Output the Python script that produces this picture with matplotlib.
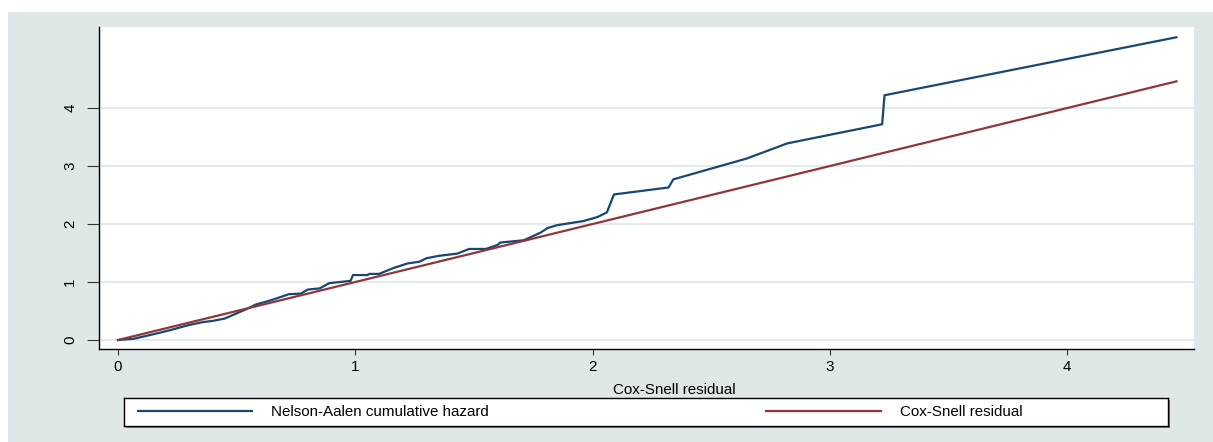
import matplotlib
matplotlib.use("Agg")
import matplotlib.pyplot as plt
from matplotlib.patches import Rectangle

plt.rcParams['font.family'] = ['Liberation Sans', 'DejaVu Sans']

# Nelson-Aalen cumulative hazard vs Cox-Snell residual
na_x = [0, 0.065, 0.16, 0.22, 0.30, 0.36, 0.40, 0.45, 0.50, 0.54, 0.58, 0.64,
        0.67, 0.72, 0.77, 0.80, 0.85, 0.89, 0.98, 0.99, 1.05, 1.06, 1.10, 1.16,
        1.22, 1.27, 1.30, 1.35, 1.43, 1.48, 1.55, 1.60, 1.61, 1.71, 1.78, 1.81,
        1.85, 1.96, 2.02, 2.06, 2.09, 2.32, 2.34, 2.65, 2.82, 3.22, 3.23, 4.46]
na_y = [0, 0.02, 0.11, 0.17, 0.26, 0.31, 0.33, 0.37, 0.46, 0.53, 0.61, 0.68,
        0.72, 0.79, 0.80, 0.87, 0.89, 0.98, 1.02, 1.12, 1.12, 1.14, 1.14, 1.24,
        1.32, 1.35, 1.41, 1.45, 1.49, 1.57, 1.57, 1.64, 1.68, 1.72, 1.85, 1.93,
        1.98, 2.05, 2.12, 2.20, 2.51, 2.63, 2.77, 3.13, 3.39, 3.72, 4.22, 5.22]

cs_x = [0, 4.46]
cs_y = [0, 4.46]

xticks = [0, 1, 2, 3, 4]
yticks = [0, 1, 2, 3, 4]
labels = ['Nelson-Aalen cumulative hazard', 'Cox-Snell residual']

NAVY = '#1a476f'
MAROON = '#90353b'
BG = '#dfe7e8'
GRID = '#e3ebec'
FS = 10.9

W, H = 1213, 442
fig = plt.figure(figsize=(W / 100, H / 100), dpi=100, facecolor='white')

# graph region background
fig.patches.append(Rectangle((8 / W, 0), 1, (H - 12) / H, transform=fig.transFigure,
                             facecolor=BG, edgecolor='none', zorder=-10))

ax = fig.add_axes([99 / W, (H - 349) / H, 1095 / W, 322 / H])
ax.set_facecolor('white')
ax.plot(na_x, na_y, color=NAVY, lw=1.6, label=labels[0], zorder=3)
ax.plot(cs_x, cs_y, color=MAROON, lw=1.6, label=labels[1], zorder=3)

ax.set_xlim(-0.08, 4.534)
ax.set_ylim(-0.155, 5.397)
ax.set_xticks(xticks)
ax.set_yticks(yticks)
ax.set_xticklabels([str(t) for t in xticks], fontsize=FS)
ax.set_yticklabels([str(t) for t in yticks], fontsize=FS, rotation=90, va='center')
ax.tick_params(axis='x', length=4.3, width=0.8, pad=3.5, colors='#333333', labelcolor='black')
ax.tick_params(axis='y', length=8.6, width=0.8, pad=7, colors='#333333', labelcolor='black')
ax.grid(axis='y', color=GRID, lw=1.5, zorder=0)
ax.set_axisbelow(True)
for s in ['top', 'right']:
    ax.spines[s].set_visible(False)
for s in ['left', 'bottom']:
    ax.spines[s].set_linewidth(1.0)
    ax.spines[s].set_color('black')
ax.set_xlabel('Cox-Snell residual', fontsize=FS)
ax.xaxis.set_label_coords(0.525, -0.105)

# legend box with shadow
lx, ly, lw_, lh = 124 / W, (H - 426) / H, 1044 / W, 28 / H
fig.patches.append(Rectangle((lx + 2 / W, ly - 2 / H), lw_, lh, transform=fig.transFigure,
                             facecolor='#7a7a7a', edgecolor='none', zorder=-5))
lax = fig.add_axes([lx, ly, lw_, lh])
lax.set_facecolor('white')
lax.set_xticks([])
lax.set_yticks([])
for s in lax.spines.values():
    s.set_linewidth(1.0)
    s.set_color('black')
handles, labs = ax.get_legend_handles_labels()
lax.legend(handles, labs, loc='center left', bbox_to_anchor=(0, 0.5), ncol=2,
           frameon=False, fontsize=FS, handlelength=7.55, handletextpad=1.26,
           columnspacing=18.3, borderaxespad=0, borderpad=0.93)

fig.savefig('out.png', dpi=100, facecolor='white')
